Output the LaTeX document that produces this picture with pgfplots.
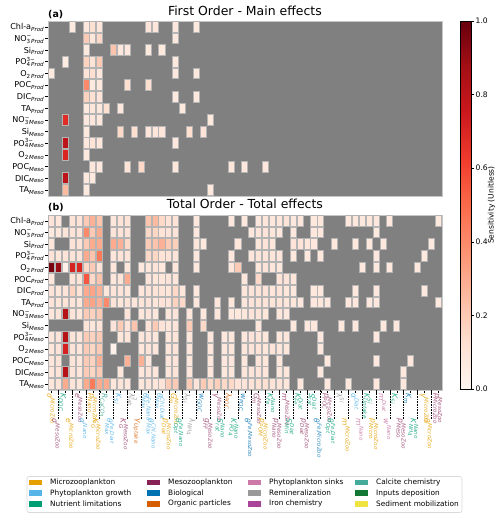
\documentclass[border=0pt]{standalone}
\usepackage{pgfplots}
\pgfplotsset{compat=1.18}
\usepackage{pgfplotstable}
\usepackage{fontspec}
\setmainfont{DejaVu Sans}

% category colours
\definecolor{nangray}{HTML}{808080}
\definecolor{celledge}{HTML}{B4B4B4}
\definecolor{cMicro}{HTML}{E69F00}
\definecolor{cPhyto}{HTML}{56B4E9}
\definecolor{cNutr}{HTML}{009E73}
\definecolor{cMeso}{HTML}{882255}
\definecolor{cBio}{HTML}{0072B2}
\definecolor{cOrg}{HTML}{D55E00}
\definecolor{cSink}{HTML}{CC79A7}
\definecolor{cRemin}{HTML}{999999}
\definecolor{cIron}{HTML}{AA4499}
\definecolor{cCalc}{HTML}{44AA99}
\definecolor{cInput}{HTML}{117733}
\definecolor{cSed}{HTML}{F0E442}
\colorlet{lMicro}{cMicro!88!white}
\colorlet{lPhyto}{cPhyto!90!white}
\colorlet{lNutr}{cNutr!82!white}
\colorlet{lMeso}{cMeso!75!white}
\colorlet{lBio}{cBio!82!white}
\colorlet{lOrg}{cOrg!82!white}
\colorlet{lSink}{cSink!88!white}
\colorlet{lRemin}{cRemin!88!white}
\colorlet{lCalc}{cCalc!88!white}

% text sub- and superscripts in the text font (smashed so rows keep their height)
\newcommand\ssz{\fontsize{5.6}{6}\selectfont}
\newcommand\I[1]{\textit{#1}}
\newcommand\SB[1]{\smash{\raisebox{-0.4ex}{\ssz#1}}}
\newcommand\SP[1]{\smash{\raisebox{0.8ex}{\ssz#1}}}
\newcommand\SPB[2]{\setbox0\hbox{\SP{#1}}\setbox2\hbox{\SB{#2}}%
  \ifdim\wd0>\wd2\relax\rlap{\box2}\box0\else\rlap{\box0}\box2\fi}

% one heatmap cell
\pgfdeclareplotmark{cell}{%
  \pgfpathrectangle{\pgfpoint{-3.03bp}{-5.40bp}}{\pgfpoint{6.06bp}{10.80bp}}%
  \pgfusepathqfillstroke}

% first-order indices: rows = diagnostics, columns = parameters (nan = not shown)
\pgfplotstableread{
row c0 c1 c2 c3 c4 c5 c6 c7 c8 c9 c10 c11 c12 c13 c14 c15 c16 c17 c18 c19 c20 c21 c22 c23 c24 c25 c26 c27 c28 c29 c30 c31 c32 c33 c34 c35 c36 c37 c38 c39 c40 c41 c42 c43 c44 c45 c46 c47 c48 c49 c50 c51 c52 c53 c54 c55 c56
r0  nan nan nan 0.07 nan 0.08 0.12 0.09 nan nan  nan nan nan nan 0.10 0.09 nan nan 0.08 nan  nan 0.07 nan nan nan nan nan nan nan nan  nan nan nan nan nan nan nan nan nan nan  nan nan nan nan nan nan nan nan nan nan  nan nan nan nan nan nan nan
r1  nan nan nan nan nan 0.20 0.09 0.15 nan nan  nan nan nan nan nan nan nan nan 0.07 nan  nan nan nan nan nan nan nan nan nan nan  nan nan nan nan nan nan nan nan nan nan  nan nan nan nan nan nan nan nan nan nan  nan nan nan nan nan nan nan
r2  nan nan nan nan nan 0.07 nan nan nan 0.22  0.09 0.08 nan nan 0.07 nan 0.07 nan nan nan  nan nan nan nan nan nan nan nan nan nan  nan nan nan nan nan nan nan nan nan nan  nan nan nan nan nan nan nan nan nan nan  nan nan nan nan nan nan nan
r3  nan nan 0.05 nan nan 0.17 0.11 0.20 nan nan  nan nan nan nan nan nan nan nan 0.07 nan  nan nan nan nan nan nan nan nan nan nan  nan nan nan nan nan nan nan nan nan nan  nan nan nan nan nan nan nan nan nan nan  nan nan nan nan nan nan nan
r4  0.07 nan nan nan nan 0.10 0.13 0.08 nan nan  nan nan nan nan nan nan nan nan 0.08 nan  nan 0.07 nan nan nan nan nan nan nan nan  nan nan nan nan nan nan nan nan nan nan  nan nan nan nan nan nan nan nan nan nan  nan nan nan nan nan nan nan
r5  nan nan nan nan nan 0.40 0.07 0.08 nan nan  nan 0.13 nan nan 0.13 nan nan nan nan nan  nan nan nan nan nan nan nan nan nan nan  nan nan nan nan nan nan nan nan nan nan  nan nan nan nan nan nan nan nan nan nan  nan nan nan nan nan nan nan
r6  nan nan nan nan nan 0.17 0.12 0.10 nan nan  nan nan nan nan nan nan nan nan 0.07 nan  nan 0.07 nan nan nan nan nan nan nan nan  nan nan nan nan nan nan nan nan nan nan  nan nan nan nan nan nan nan nan nan nan  nan nan nan nan nan nan nan
r7  nan nan nan nan nan 0.07 0.09 0.08 0.13 nan  0.08 nan nan nan nan nan nan nan nan 0.07  nan nan nan nan nan nan nan nan nan nan  nan nan nan nan nan nan nan nan nan nan  nan nan nan nan nan nan nan nan nan nan  nan nan nan nan nan nan nan
r8  nan nan 0.68 nan nan 0.07 0.09 0.08 nan nan  nan nan nan nan nan nan nan nan nan nan  nan nan nan 0.07 nan nan nan nan nan nan  nan nan nan nan nan nan nan nan nan nan  nan nan nan nan nan nan nan nan nan nan  nan nan nan nan nan nan nan
r9  nan nan nan nan nan 0.07 nan nan nan nan  0.15 nan 0.13 nan 0.09 0.09 0.09 nan nan nan  0.13 nan 0.11 nan nan nan nan nan nan nan  nan nan nan nan nan nan nan nan nan nan  nan nan nan nan nan nan nan nan nan nan  nan nan nan nan nan nan nan
r10 nan nan 0.80 nan nan 0.08 0.11 0.09 nan nan  nan nan nan nan nan nan nan nan 0.08 nan  nan nan nan nan nan nan nan nan nan nan  nan nan nan nan nan nan nan nan nan nan  nan nan nan nan nan nan nan nan nan nan  nan nan nan nan nan nan nan
r11 nan nan 0.70 nan nan 0.07 nan nan nan nan  nan nan nan nan nan nan nan nan nan nan  nan nan nan nan nan nan nan nan nan nan  nan nan nan nan nan nan nan nan nan nan  nan nan nan nan nan nan nan nan nan nan  nan nan nan nan nan nan nan
r12 nan nan nan nan nan nan 0.09 0.08 nan nan  nan 0.11 nan 0.15 nan nan nan nan 0.09 nan  nan nan nan nan nan nan 0.09 nan 0.08 nan  nan 0.08 nan nan nan nan nan nan nan nan  nan nan nan nan nan nan nan nan nan nan  nan nan nan nan nan nan nan
r13 nan nan 0.80 nan nan 0.08 0.07 nan nan nan  nan nan nan nan nan nan nan nan nan nan  nan nan nan nan nan nan nan nan nan nan  nan nan nan nan nan nan nan nan nan nan  nan nan nan nan nan nan nan nan nan nan  nan nan nan nan nan nan nan
r14 nan nan 0.25 nan nan 0.07 nan nan nan nan  nan nan nan nan nan nan nan nan nan nan  nan nan nan 0.08 nan nan nan nan nan nan  nan nan nan nan nan nan nan nan nan nan  nan nan nan nan nan nan nan nan nan nan  nan nan nan nan nan nan nan
}\firstraw

% total-order indices
\pgfplotstableread{
row c0 c1 c2 c3 c4 c5 c6 c7 c8 c9 c10 c11 c12 c13 c14 c15 c16 c17 c18 c19 c20 c21 c22 c23 c24 c25 c26 c27 c28 c29 c30 c31 c32 c33 c34 c35 c36 c37 c38 c39 c40 c41 c42 c43 c44 c45 c46 c47 c48 c49 c50 c51 c52 c53 c54 c55 c56
r0  0.10 0.09 nan 0.11 0.10 0.20 0.28 0.22 nan 0.09  0.11 0.10 nan nan 0.22 0.25 0.15 0.11 0.10 nan  nan 0.08 nan nan nan nan 0.08 nan 0.08 nan  0.08 0.09 0.08 0.09 0.10 0.08 0.09 nan 0.08 0.09  nan nan nan 0.08 0.08 0.08 0.09 0.08 nan 0.08  nan nan nan nan nan nan 0.07
r1  0.07 0.08 0.10 0.11 0.10 0.40 0.20 0.30 nan 0.10  0.11 0.10 nan nan 0.15 0.16 0.11 0.10 0.10 nan  nan 0.08 nan nan nan nan nan nan nan 0.08  0.09 0.10 0.09 0.08 nan 0.08 nan nan 0.08 0.08  nan nan nan nan nan nan nan 0.07 nan nan  nan nan nan nan nan nan nan
r2  0.09 nan nan 0.10 0.11 0.20 0.30 0.30 nan 0.30  0.28 0.15 nan nan 0.20 0.22 0.28 0.20 0.18 nan  nan 0.09 0.08 nan nan nan nan 0.09 nan nan  0.09 0.10 0.09 nan nan 0.10 0.11 0.09 0.08 nan  nan 0.08 nan nan 0.08 nan 0.08 nan 0.08 nan  nan nan nan nan nan 0.07 nan
r3  0.10 0.09 0.11 0.11 0.10 0.30 0.22 0.45 nan 0.09  0.11 0.10 nan nan 0.15 0.16 0.11 0.11 0.10 nan  nan 0.08 nan nan nan nan 0.08 nan nan 0.09  0.10 0.10 0.09 0.09 nan 0.08 nan 0.08 nan 0.08  nan nan nan nan nan nan nan 0.08 nan nan  nan nan nan nan 0.07 nan nan
r4  0.97 0.90 0.03 0.72 0.70 0.15 0.20 0.11 nan 0.09  nan 0.09 nan 0.08 0.09 0.10 0.08 nan 0.09 nan  nan 0.08 nan nan nan nan 0.09 0.20 nan nan  0.09 0.10 0.09 0.08 nan nan nan nan nan nan  nan nan nan nan nan 0.08 nan 0.08 nan 0.08  nan nan nan 0.08 nan nan nan
r5  0.09 nan nan 0.10 0.11 0.55 0.15 0.22 nan 0.09  0.10 0.30 nan nan 0.10 0.09 0.09 0.10 0.09 nan  nan nan nan nan nan nan nan nan 0.09 nan  0.15 nan nan 0.11 0.10 0.09 nan nan nan nan  nan nan nan nan nan nan nan nan nan nan  nan nan nan nan nan nan nan
r6  0.10 0.09 0.10 0.17 0.11 0.30 0.32 0.28 0.09 0.10  0.10 0.09 nan 0.09 0.10 0.11 0.10 0.09 0.15 0.09  nan 0.08 nan nan nan nan nan nan 0.09 0.10  0.11 0.10 0.09 0.10 0.09 0.08 nan nan 0.08 0.08  nan nan nan nan 0.08 nan nan 0.08 nan nan  nan nan nan nan 0.07 nan nan
r7  0.10 0.09 0.11 0.10 0.09 0.30 0.32 0.28 0.40 0.10  0.09 0.10 0.09 0.10 0.10 0.09 0.11 0.10 0.17 0.15  nan 0.09 nan nan 0.09 nan 0.09 nan 0.09 0.10  0.11 0.10 0.09 0.10 0.09 0.09 0.08 nan 0.08 0.09  0.08 nan nan 0.08 0.08 nan 0.08 0.08 nan nan  nan nan nan nan nan nan 0.07
r8  0.09 0.10 0.82 0.10 0.09 0.20 0.17 0.20 nan nan  nan 0.10 nan 0.09 0.10 0.09 nan 0.09 0.10 nan  0.09 nan 0.08 nan 0.09 nan 0.08 0.08 0.09 0.10  0.10 0.09 nan 0.09 0.08 nan nan nan nan nan  nan nan nan nan nan nan nan nan nan nan  nan nan nan nan nan nan nan
r9  nan nan nan nan nan 0.10 0.09 0.11 nan 0.10  0.20 0.10 0.22 nan 0.11 0.20 0.10 0.09 0.10 nan  0.20 nan 0.15 nan nan nan nan nan nan nan  0.09 nan nan nan nan 0.08 nan 0.08 0.08 nan  nan nan 0.08 nan 0.08 nan nan nan 0.08 nan  0.08 nan nan nan nan nan nan
r10 0.09 0.10 0.82 0.10 0.09 0.20 0.17 0.20 nan nan  0.09 0.10 nan 0.09 0.10 0.09 nan 0.09 0.10 nan  0.09 nan nan 0.09 nan 0.08 0.09 nan 0.09 0.10  0.10 0.09 nan 0.09 0.09 nan nan nan nan 0.08  nan nan nan nan nan nan nan 0.08 nan nan  nan nan nan nan nan nan nan
r11 0.09 0.10 0.72 0.10 0.09 0.20 0.16 0.20 nan 0.03  nan nan nan 0.09 0.10 0.09 nan 0.09 0.10 nan  0.09 nan nan 0.09 nan 0.08 0.09 nan 0.09 0.10  0.11 0.09 0.10 0.09 0.09 nan nan nan nan 0.08  nan nan nan nan nan nan nan nan nan nan  nan nan nan nan nan nan nan
r12 0.09 0.10 nan 0.10 0.09 0.20 0.17 0.28 nan nan  nan 0.28 nan 0.28 0.09 nan nan 0.09 0.10 nan  0.09 nan nan 0.09 nan 0.08 0.09 nan 0.09 nan  0.10 0.09 nan 0.09 nan nan nan nan nan nan  0.08 nan nan nan nan nan nan 0.08 nan nan  nan nan 0.08 nan nan nan nan
r13 0.09 0.10 0.82 0.10 0.09 0.20 0.16 0.20 nan nan  0.09 nan nan 0.09 0.10 0.09 nan 0.09 0.10 nan  0.09 nan nan 0.09 nan 0.08 0.09 nan 0.09 0.10  0.10 0.09 nan 0.09 0.09 nan nan nan nan 0.08  nan nan nan nan nan nan nan nan nan nan  nan 0.08 nan nan nan nan nan
r14 0.09 0.10 0.30 0.10 0.09 0.30 0.45 0.30 0.30 0.09  0.10 0.09 nan 0.09 0.10 0.09 0.10 0.20 0.20 nan  0.20 0.10 0.20 0.15 0.18 0.15 0.15 0.10 0.10 0.11  0.12 0.13 0.11 0.10 0.09 nan 0.09 nan nan nan  0.08 nan nan 0.08 nan nan nan 0.08 nan nan  nan 0.08 nan nan nan nan nan
}\totalraw

% one line per parameter, one column per diagnostic
\pgfplotstabletranspose[colnames from=row]{\firstT}{\firstraw}
\pgfplotstabletranspose[colnames from=row]{\totalT}{\totalraw}

\pgfplotsset{
  heat/.style={
    width=393.7bp, height=174.7bp, scale only axis,
    xmin=-0.5, xmax=56.5, ymin=-0.5, ymax=14.5, y dir=reverse,
    axis background/.style={fill=nangray},
    axis line style={draw=gray!45},
    tick align=outside, xtick pos=bottom, ytick pos=left,
    major tick length=3.2bp, minor tick length=3.2bp,
    tick style={black, line width=0.6bp},
    ytick={0,...,14},
    yticklabels={
      {Chl-a\SB{\I{Prod}}}, {NO\SPB{−}{3\,\I{Prod}}}, {Si\SB{\I{Prod}}},
      {PO\SPB{3−}{4\,\I{Prod}}}, {O\SB{2\,\I{Prod}}}, {POC\SB{\I{Prod}}},
      {DIC\SB{\I{Prod}}}, {TA\SB{\I{Prod}}}, {NO\SPB{−}{3\,\I{Meso}}},
      {Si\SB{\I{Meso}}}, {PO\SPB{3−}{4\,\I{Meso}}}, {O\SB{2\,\I{Meso}}},
      {POC\SB{\I{Meso}}}, {DIC\SB{\I{Meso}}}, {TA\SB{\I{Meso}}}},
    yticklabel style={font=\fontsize{8.1}{8.5}\selectfont, inner sep=0.8bp},
    colormap={reds}{rgb255=(255,245,240) rgb255=(254,224,210) rgb255=(252,187,161)
      rgb255=(252,146,114) rgb255=(251,106,74) rgb255=(239,59,44)
      rgb255=(203,24,29) rgb255=(165,15,21) rgb255=(103,0,13)},
    point meta min=0, point meta max=1,
  },
  cellplot/.style={scatter, only marks, mark=cell, point meta=explicit,
    mark options={line width=0.9bp},
    scatter/use mapped color={draw=celledge, fill=mapped color}},
}

\begin{document}
\begin{tikzpicture}
\path[use as bounding box] (0,0) rectangle (500bp,-518bp);

% (a) first order
\begin{axis}[heat, at={(48bp,-21bp)}, anchor=north west, xtick=\empty,
  colorbar,
  colorbar style={
    at={(451.7bp,-21bp)}, anchor=north west,
    width=10.6bp, height=368bp, scale only axis,
    xtick=\empty,
    ytick={0,0.2,0.4,0.6,0.8,1},
    tick align=outside, ytick pos=right, yticklabel pos=right,
    major tick length=3.2bp,
    tick style={black, line width=0.6bp},
    axis line style={black, line width=0.6bp},
    yticklabel={\pgfmathprintnumber[fixed,fixed zerofill,precision=1,assume math mode=true]{\tick}},
    yticklabel style={font=\fontsize{7.6}{9}\selectfont, inner sep=1.5bp},
    ylabel={Sensitivity (Unitless)},
    ylabel style={font=\fontsize{7.6}{9}\selectfont},
    ylabel shift=-5bp,
  }]
\pgfplotsinvokeforeach{0,...,14}{
  \addplot[cellplot] table[x expr=\coordindex, y expr={\thisrow{r#1}*0+#1}, meta=r#1]{\firstT};
}
\end{axis}

% (b) total order
\begin{axis}[heat, at={(48bp,-215bp)}, anchor=north west,
  xtick={0,2,...,56}, minor xtick={1,3,...,55},
  xticklabel style={rotate=-90, anchor=west, inner sep=0pt, yshift=-2bp,
    font=\fontsize{7.6}{8}\selectfont},
  xticklabels={
    {\textcolor{lMicro}{\I{σ}\SP{\I{MicroZoo}}}},
    {\textcolor{lNutr}{\I{K}\SB{\I{DOC}}}},
    {\textcolor{lMeso}{\I{e}\SP{\I{MesoZoo}}}},
    {\textcolor{lMicro}{\I{p}\SPB{\I{MicroZoo}}{\I{Nano}}}},
    {\textcolor{lCalc}{\I{R}\SB{\I{CaCO}\SB{3}}}},
    {\textcolor{lPhyto}{\I{K}\SB{\I{Si}}}},
    {\textcolor{lRemin}{\I{λ}\SPB{2}{\I{lab}}}},
    {\textcolor{lPhyto}{\I{θ}\SPB{\I{Fe,Nano}}{\I{Max}}}},
    {\textcolor{lPhyto}{\I{θ}\SPB{\I{Chl,Diat}}{\I{Max}}}},
    {\textcolor{lMicro}{\I{G}\SPB{\I{MicroZoo}}{\I{m}}}},
    {\textcolor{lRemin}{\I{λ}\SB{\I{Si}}}},
    {\textcolor{lBio}{\I{w}\SB{\I{GOC}}}},
    {\textcolor{lMeso}{\I{γ}\SP{\I{MesoZoo}}}},
    {\textcolor{lOrg}{\I{λ}\SB{\I{POC}}}},
    {\textcolor{lBio}{\I{w}\SB{\I{POC}}}},
    {\textcolor{lMeso}{\I{G}\SPB{\I{MesoZoo}}{\I{m}}}},
    {\textcolor{lNutr}{\I{K}\SPB{\I{Nano}}{\I{Fe}}}},
    {\textcolor{lMeso}{\I{m}\SP{\I{MesoZoo}}}},
    {\textcolor{lNutr}{\I{K}\SPB{\I{Diat}}{\I{Fe}}}},
    {\textcolor{lNutr}{\I{S}\SPB{\I{Diat}}{\I{rat}}}},
    {\textcolor{lMeso}{\I{p}\SPB{\I{MesoZoo}}{\I{POC}}}},
    {\textcolor{lRemin}{\I{λ}\SP{\I{Si}}}},
    {\textcolor{lPhyto}{\I{α}\SP{\I{Diat}}}},
    {\textcolor{lNutr}{\I{K}\SPB{\I{Si}}{\I{Uptake}}}},
    {\textcolor{lSink}{\I{m}\SP{\I{Diat}}}},
    {\textcolor{lNutr}{\I{K}\SB{\I{Si}}}},
    {\textcolor{lBio}{\I{K}\SB{\I{m}}}},
    {\textcolor{lMicro}{\I{γ}\SP{\I{MicroZoo}}}},
    {\textcolor{lMeso}{\I{p}\SPB{\I{MesoZoo}}{\I{MicroZoo}}}}},
  extra x ticks={1,3,...,55},
  extra x tick style={major tick length=29bp,
    tick style={black, densely dotted, line width=0.7bp},
    xticklabel style={yshift=-2bp}},
  extra x tick labels={
    {\textcolor{lMeso}{\I{σ}\SP{\I{MesoZoo}}}},
    {\textcolor{lMicro}{\I{e}\SP{\I{MicroZoo}}}},
    {\textcolor{lPhyto}{\I{α}\SP{\I{Nano}}}},
    {\textcolor{lMicro}{\I{K}\SPB{\I{MicroZoo}}{\I{G}}}},
    {\textcolor{lPhyto}{\I{θ}\SPB{\I{Fe,Diat}}{\I{Max}}}},
    {\textcolor{lMeso}{\I{K}\SPB{\I{MesoZoo}}{\I{G}}}},
    {\textcolor{lOrg}{\I{γ}\SB{\I{Uptake}}}},
    {\textcolor{lPhyto}{\I{θ}\SPB{\I{Chl,Nano}}{\I{Max}}}},
    {\textcolor{lMicro}{\I{p}\SPB{\I{MicroZoo}}{\I{Diat}}}},
    {\textcolor{lNutr}{\I{θ}\SPB{\I{Fe,Nano}}{\I{Opt}}}},
    {\textcolor{lRemin}{\I{λ}\SB{\I{NH}\SB{4}}}},
    {\textcolor{lMeso}{\I{g}\SPB{\I{MesoZoo}}{\I{FF}}}},
    {\textcolor{lNutr}{\I{S}\SPB{\I{Nano}}{\I{rat}}}},
    {\textcolor{lNutr}{\I{K}\SPB{\I{Nano}}{\I{PO}\SB{4}}}},
    {\textcolor{lBio}{\I{θ}\SP{\I{Fe,MesoZoo}}}},
    {\textcolor{lMicro}{\I{p}\SPB{\I{MicroZoo}}{\I{POM}}}},
    {\textcolor{lMeso}{\I{p}\SPB{\I{MesoZoo}}{\I{Nano}}}},
    {\textcolor{lNutr}{\I{S}\SPB{\I{Diat}}{\I{Min}}}},
    {\textcolor{lMeso}{\I{p}\SPB{\I{MesoZoo}}{\I{Diat}}}},
    {\textcolor{lBio}{\I{θ}\SP{\I{Fe,MicroZoo}}}},
    {\textcolor{lNutr}{\I{θ}\SPB{\I{Fe,Diat}}{\I{Opt}}}},
    {\textcolor{lMicro}{\I{m}\SP{\I{MicroZoo}}}},
    {\textcolor{lSink}{\I{m}\SP{\I{Nano}}}},
    {\textcolor{lMicro}{\I{p}\SPB{\I{MicroZoo}}{\I{Micro}}}},
    {\textcolor{lSink}{\I{w}\SP{\I{Nano}}}},
    {\textcolor{lMeso}{\I{p}\SPB{\I{MesoZoo}}{\I{Meso}}}},
    {\textcolor{lNutr}{\I{K}\SPB{\I{Nano}}{\I{NH}\SB{4}}}},
    {\textcolor{lMicro}{\I{θ}\SP{\I{MicroZoo}}}}},
]
\pgfplotsinvokeforeach{0,...,14}{
  \addplot[cellplot] table[x expr=\coordindex, y expr={\thisrow{r#1}*0+#1}, meta=r#1]{\totalT};
}
\end{axis}

% panel titles
\node[anchor=base, font=\fontsize{12.5}{14}\selectfont] at (244.9bp,-15bp) {First Order - Main effects};
\node[anchor=base west, inner sep=0pt, font=\bfseries\fontsize{9.5}{11}\selectfont] at (48bp,-17bp) {(a)};
\node[anchor=base, font=\fontsize{12.5}{14}\selectfont] at (244.9bp,-208.5bp) {Total Order - Total effects};
\node[anchor=base west, inner sep=0pt, font=\bfseries\fontsize{9.5}{11}\selectfont] at (48bp,-210.5bp) {(b)};

% legend
\draw[gray!30, fill=white, rounded corners=2bp, line width=0.6bp] (27bp,-476.5bp) rectangle (462bp,-512.5bp);
\begin{scope}[font=\fontsize{7.4}{9}\selectfont]
\foreach \x/\c/\t [count=\i from 0] in {
  29/cMicro/Microzooplankton, 29/cPhyto/Phytoplankton growth, 29/cNutr/Nutrient limitations,
  147/cMeso/Mesozooplankton, 147/cBio/Biological, 147/cOrg/Organic particles,
  248/cSink/Phytoplankton sinks, 248/cRemin/Remineralization, 248/cIron/Iron chemistry,
  355/cCalc/Calcite chemistry, 355/cInput/Inputs deposition, 355/cSed/Sediment mobilization}{
  \pgfmathtruncatemacro\r{mod(\i,3)}
  \pgfmathsetmacro\yy{-482.3-10.7*\r}
  \fill[\c] (\x bp,\yy bp-2.8bp) rectangle (\x bp+13bp,\yy bp+2.8bp);
  \node[anchor=west, inner sep=0pt] at (\x bp+21bp,\yy bp) {\t};
}
\end{scope}
\end{tikzpicture}
\end{document}
